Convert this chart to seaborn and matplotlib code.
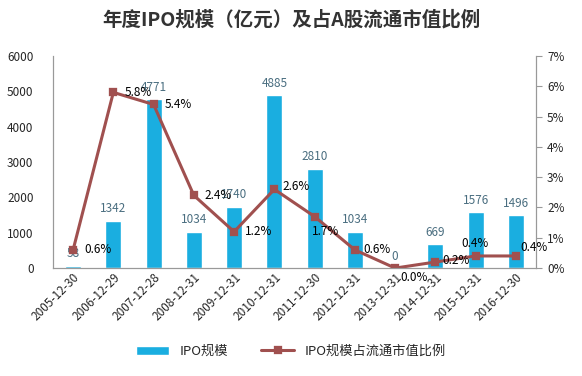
import matplotlib
matplotlib.use('Agg')
import pandas as pd
import matplotlib.pyplot as plt
import seaborn as sns
from matplotlib.ticker import FuncFormatter

# 数据
dates = ['2005-12-30', '2006-12-29', '2007-12-28', '2008-12-31', '2009-12-31', '2010-12-31',
         '2011-12-30', '2012-12-31', '2013-12-31', '2014-12-31', '2015-12-31', '2016-12-30']
ipo_size = [58, 1342, 4771, 1034, 1740, 4885, 2810, 1034, 0, 669, 1576, 1496]
ipo_ratio = [0.6, 5.8, 5.4, 2.4, 1.2, 2.6, 1.7, 0.6, 0.0, 0.2, 0.4, 0.4]

df = pd.DataFrame({'日期': dates, 'IPO规模': ipo_size, '比例': ipo_ratio})

sns.set_style('white')
plt.rcParams['font.family'] = ['Noto Sans CJK SC', 'DejaVu Sans']
plt.rcParams['axes.unicode_minus'] = False

bar_color = '#1AAEE0'
line_color = '#A0504F'
fs = 8.5

fig = plt.figure(figsize=(5.82, 3.76), dpi=100)
ax = fig.add_axes([0.091, 0.287, 0.830, 0.564])

sns.barplot(x='日期', y='IPO规模', data=df, color=bar_color, width=0.4, ax=ax,
            saturation=1, label='IPO规模')
ax.set_ylim(0, 6000)
ax.set_yticks(range(0, 6001, 1000))
ax.set_xlabel('')
ax.set_ylabel('')
ax.bar_label(ax.containers[0], labels=[str(v) for v in ipo_size],
             padding=4, fontsize=fs, color='#4A6E80')

ax2 = ax.twinx()
sns.pointplot(x='日期', y='比例', data=df, color=line_color, markers='s',
              linestyles='-', errorbar=None, ax=ax2, markersize=5, linewidth=2.2,
              label='IPO规模占流通市值比例')
ax2.set_ylim(0, 7)
ax2.set_yticks(range(0, 8))
ax2.yaxis.set_major_formatter(FuncFormatter(lambda v, p: f'{int(v)}%'))
ax2.set_ylabel('')
ax2.set_xlabel('')

# 折线数值标注
offsets = [(8, 0), (8, 0), (8, 0), (8, 0), (8, 0), (6, 2),
           (-2, -11), (6, 0), (4, -7), (5, 1), (-10, 9), (3, 6)]
for i, v in enumerate(ipo_ratio):
    ax2.annotate(f'{v:.1f}%', (i, v), xytext=offsets[i], textcoords='offset points',
                 ha='left', va='center', fontsize=fs, color='black')

# 坐标轴样式
for a in (ax, ax2):
    a.spines['top'].set_visible(False)
    for s in ('left', 'right', 'bottom'):
        a.spines[s].set_color('#999999')
        a.spines[s].set_linewidth(0.8)
ax.tick_params(axis='y', labelsize=fs, length=0, pad=14)
ax2.tick_params(axis='y', labelsize=fs, length=4, color='#999999', direction='out', pad=4)
ax.tick_params(axis='x', labelsize=fs, length=0, pad=2)
ax.set_xlim(-0.5, len(dates) - 0.5)
plt.setp(ax.get_xticklabels(), rotation=45, ha='right', rotation_mode='anchor')

fig.suptitle('年度IPO规模（亿元）及占A股流通市值比例', x=0.5, y=0.975,
             fontsize=14, fontweight='bold', color='#333333')

# 图例
h1, l1 = ax.get_legend_handles_labels()
h2, l2 = ax2.get_legend_handles_labels()
for a in (ax, ax2):
    if a.get_legend() is not None:
        a.get_legend().remove()
fig.legend(h1 + h2, l1 + l2, loc='center', bbox_to_anchor=(0.5, 0.065), ncol=2,
           frameon=False, fontsize=9.5, handlelength=2.5, columnspacing=2.5)

fig.savefig('out.png', dpi=100)
